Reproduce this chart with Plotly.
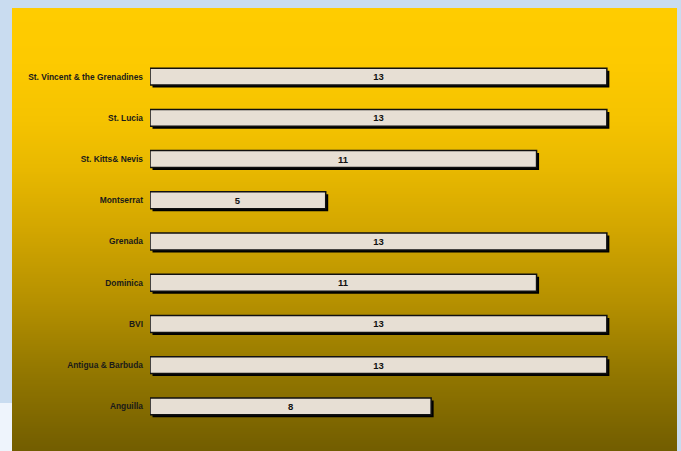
import plotly.graph_objects as go

categories = ["Anguilla", "Antigua & Barbuda", "BVI", "Dominica", "Grenada",
              "Montserrat", "St. Kitts& Nevis", "St. Lucia", "St. Vincent & the Grenadines"]
values = [8, 13, 13, 11, 13, 5, 11, 13, 13]

W, H = 681, 451
ML, MR, MT, MB = 150, 39, 56, 24
PW, PH = W - ML - MR, H - MT - MB
XMAX = 14.0
YR = (-0.5, 8.5)
px_per_x = PW / XMAX
px_per_y = PH / (YR[1] - YR[0])
shadow = 2.5
dx = shadow / px_per_x
dy = shadow / px_per_y


def px2x(px):
    return (px - ML) / PW


def py2y(py):
    return (H - MB - py) / PH


# background gradient stops (pixel y, rgb)
stops = [(8, (255, 204, 0)), (60, (253, 202, 0)), (120, (245, 195, 0)),
         (170, (232, 184, 0)), (230, (210, 166, 0)), (300, (182, 145, 0)),
         (370, (148, 120, 0)), (451, (114, 93, 0))]


def grad(py):
    for (y0, c0), (y1, c1) in zip(stops[:-1], stops[1:]):
        if y0 <= py <= y1:
            t = (py - y0) / (y1 - y0)
            return "rgb(%d,%d,%d)" % tuple(round(a + (b - a) * t) for a, b in zip(c0, c1))
    return "rgb(%d,%d,%d)" % stops[-1][1]


shapes = []
shapes.append(dict(type="rect", xref="paper", yref="paper", x0=px2x(-2), x1=px2x(12),
                   y0=py2y(403), y1=py2y(453), fillcolor="#EEF4FC", line_width=0, layer="below"))
step = 2
py = 8
while py < 451:
    shapes.append(dict(type="rect", xref="paper", yref="paper", x0=px2x(12), x1=px2x(677),
                       y0=py2y(py + step + 0.3), y1=py2y(py), fillcolor=grad(py + step / 2),
                       line_width=0, layer="below"))
    py += step

fig = go.Figure()
# shadow bars on base axes (shifted ranges)
fig.add_trace(go.Bar(x=values, y=categories, orientation="h", width=0.41,
                     marker=dict(color="#000000", line=dict(width=0)),
                     hoverinfo="skip", xaxis="x", yaxis="y"))
# main bars on overlay axes
fig.add_trace(go.Bar(x=values, y=categories, orientation="h", width=0.41,
                     marker=dict(color="#E7DFD4", line=dict(color="#111111", width=1.5)),
                     text=[str(v) for v in values], textposition="inside",
                     insidetextanchor="middle", textangle=0, constraintext="none",
                     textfont=dict(family="Liberation Sans, Arial", size=9.5, color="#111111", weight="bold"),
                     xaxis="x2", yaxis="y2"))

fig.update_layout(
    width=W, height=H,
    margin=dict(l=ML, r=MR, t=MT, b=MB),
    paper_bgcolor="#C9DCF0", plot_bgcolor="rgba(0,0,0,0)",
    showlegend=False, barmode="overlay",
    shapes=shapes,
    xaxis=dict(range=[-dx, XMAX - dx], visible=False, fixedrange=True),
    yaxis=dict(range=[YR[0] + dy, YR[1] + dy], visible=False, categoryorder="array",
               categoryarray=categories, fixedrange=True),
    xaxis2=dict(range=[0, XMAX], overlaying="x", anchor="y2", visible=False, fixedrange=True),
    yaxis2=dict(range=list(YR), overlaying="y", anchor="x2", side="left", categoryorder="array",
                categoryarray=categories, showgrid=False, zeroline=False, showline=False,
                ticks="", ticklabelstandoff=6,
                tickfont=dict(family="Liberation Sans, Arial", size=8.4, color="#1a1a1a", weight="bold"),
                fixedrange=True),
)

fig.write_html("out.html", config={"displayModeBar": False},
               post_script="document.body.style.margin='0';document.body.style.overflow='hidden';")
